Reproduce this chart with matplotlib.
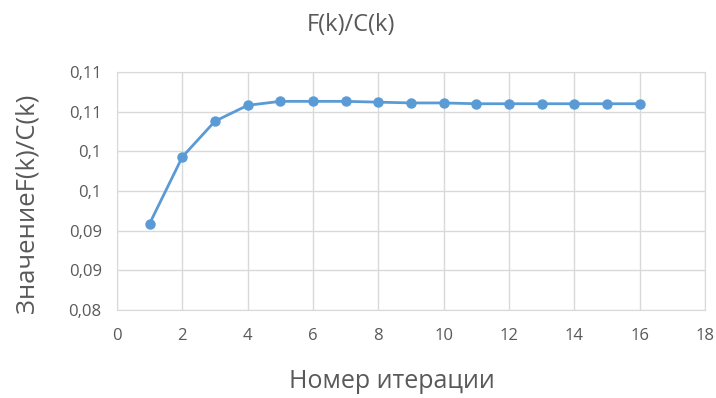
import numpy as np
import matplotlib
matplotlib.use('Agg')
import matplotlib.pyplot as plt

plt.rcParams['font.family'] = ['Open Sans', 'DejaVu Sans']

# данные
iterations = [1, 2, 3, 4, 5, 6, 7, 8, 9, 10, 11, 12, 13, 14, 15, 16]
ratio = [0.0909, 0.0993, 0.1038, 0.1058, 0.1063, 0.1063, 0.1063, 0.1062,
         0.1061, 0.1061, 0.1060, 0.1060, 0.1060, 0.1060, 0.1060, 0.1060]
y_ticks = [0.08, 0.085, 0.09, 0.095, 0.10, 0.105, 0.11]
y_labels = ['0,08', '0,09', '0,09', '0,1', '0,1', '0,11', '0,11']
x_ticks = [0, 2, 4, 6, 8, 10, 12, 14, 16, 18]

BLUE = '#5B9BD5'
GRID = '#D9D9D9'
TXT = '#595959'

fig = plt.figure(figsize=(7.16, 3.98), dpi=100)
ax = fig.add_axes([117/716, 1 - 310/398, (705-117)/716, (310-72)/398])

ax.plot(iterations, ratio, color=BLUE, lw=2.0, marker='o', ms=6.5,
        markeredgecolor=BLUE, markerfacecolor=BLUE, zorder=3)

ax.set_xlim(0, 18)
ax.set_ylim(0.08, 0.11)
ax.set_xticks(x_ticks)
ax.set_yticks(y_ticks)
ax.set_yticklabels(y_labels)
ax.grid(True, color=GRID, lw=1.0)
ax.set_axisbelow(True)
for s in ax.spines.values():
    s.set_color(GRID)
ax.tick_params(length=0, colors=TXT, labelsize=12, pad=11)
ax.tick_params(axis='x', pad=13)

fig.text(351/716, 1 - 25/398, 'F(k)/C(k)', ha='center', va='center',
         fontsize=17, color=TXT)
fig.text(27/716, 1 - 203/398, 'ЗначениеF(k)/C(k)', ha='center', va='center',
         rotation=90, fontsize=18.5, color=TXT)
fig.text(392/716, 1 - 382/398, 'Номер итерации', ha='center', va='center',
         fontsize=18, color=TXT)

fig.savefig('out.png', dpi=100)
